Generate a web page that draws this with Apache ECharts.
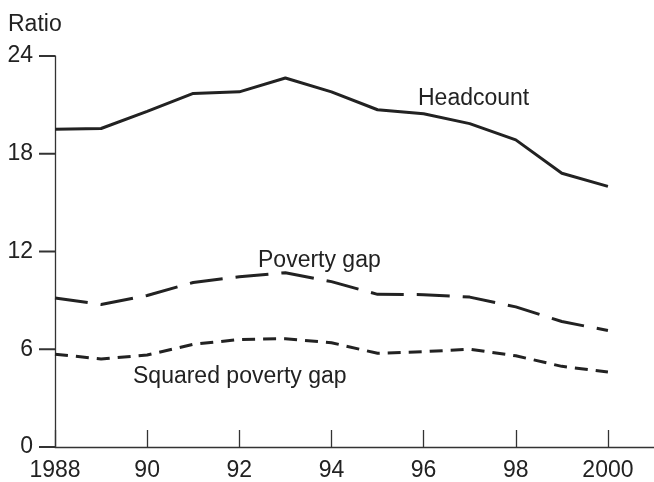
<!DOCTYPE html>
<html>
<head>
<meta charset="utf-8">
<script src="https://cdn.jsdelivr.net/npm/echarts@6/dist/echarts.min.js"></script>
<style>html,body{margin:0;padding:0;background:#fff}#c{width:654px;height:482px}</style>
</head>
<body>
<div id="c"></div>
<script>
var years = [1988,1989,1990,1991,1992,1993,1994,1995,1996,1997,1998,1999,2000];
var headcount = [19.5,19.55,20.6,21.7,21.8,22.65,21.8,20.7,20.45,19.85,18.85,16.8,16.0];
var povertyGap = [9.15,8.75,9.3,10.1,10.45,10.7,10.15,9.37,9.35,9.2,8.6,7.7,7.15];
var squaredGap = [5.7,5.4,5.65,6.3,6.6,6.65,6.4,5.75,5.85,6.0,5.6,4.95,4.6];
var yTicks = [0,6,12,18,24];

function pairs(vals){ return years.map(function(y,i){ return [y, vals[i]]; }); }

var font = 'Liberation Sans, Arial, sans-serif';
var chart = echarts.init(document.getElementById('c'), null, {renderer:'canvas'});
chart.setOption({
  animation:false,
  backgroundColor:'#fff',
  grid:{left:55, right:-3, top:56, bottom:32, containLabel:false},
  xAxis:{
    type:'value', min:1988, max:2001, interval:2,
    axisLine:{show:true, lineStyle:{color:'#333', width:1.3}},
    axisTick:{show:true, inside:true, length:17, lineStyle:{color:'#333', width:1.3}},
    splitLine:{show:false},
    axisLabel:{
      color:'#222', fontSize:23, fontFamily:font, margin:12, showMaxLabel:false,
      formatter:function(v){ if(v===1988||v===2000) return String(v); if(v>2000) return ''; return String(v).slice(2); }
    }
  },
  yAxis:{
    type:'value', min:0, max:24, interval:6, position:'left',
    axisLine:{show:true, lineStyle:{color:'#333', width:1.3}},
    axisTick:{show:false},
    splitLine:{show:false},
    axisLabel:{color:'#222', fontSize:23, fontFamily:font, margin:22,
      formatter:function(v){ return yTicks.indexOf(v)>=0 ? String(v) : ''; }}
  },
  series:[
    {type:'line', data:pairs(headcount), symbol:'none', lineStyle:{color:'#222', width:3}},
    {type:'line', data:pairs(povertyGap), symbol:'none', lineStyle:{color:'#222', width:3, type:[33,13]}},
    {type:'line', data:pairs(squaredGap), symbol:'none', lineStyle:{color:'#222', width:3, type:[13,8]}},
    {type:'custom', clip:false, silent:true, z:10,
      data: yTicks.map(function(v){ return [years[0], v]; }),
      renderItem:function(params, api){
        var p = api.coord([api.value(0), api.value(1)]);
        return {type:'line', shape:{x1:p[0]-16, y1:p[1], x2:p[0], y2:p[1]},
          style:{stroke:'#333', lineWidth:2}};
      }}
  ],
  graphic:[
    {type:'text', left:8, top:13, style:{text:'Ratio', fill:'#222', font:'23px '+font}},
    {type:'text', left:418, top:87, style:{text:'Headcount', fill:'#222', font:'23px '+font}},
    {type:'text', left:258, top:249, style:{text:'Poverty gap', fill:'#222', font:'23px '+font}},
    {type:'text', left:133, top:365, style:{text:'Squared poverty gap', fill:'#222', font:'23px '+font}}
  ]
});
</script>
</body>
</html>
